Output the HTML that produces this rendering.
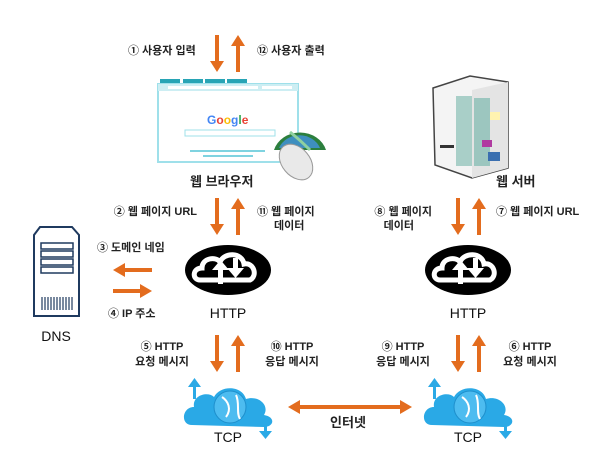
<!DOCTYPE html>
<html><head><meta charset="utf-8"><style>
body{margin:0;background:#fff}
svg{display:block}
text{font-family:"Liberation Sans","Noto Sans CJK KR",sans-serif;font-weight:bold;fill:#222}
.l{font-size:11px}
.b{font-size:14px;font-weight:normal;fill:#111}
.bb{font-size:13px}
</style></head><body>
<svg width="602" height="461" viewBox="0 0 602 461" xmlns="http://www.w3.org/2000/svg">
<defs>
<g id="dn"><rect x="-2" y="0" width="4" height="28" fill="#e36c1e"/><polygon points="-7,26 7,26 0,37" fill="#e36c1e"/></g>
<g id="up"><rect x="-2" y="9" width="4" height="28" fill="#e36c1e"/><polygon points="-7,11 7,11 0,0" fill="#e36c1e"/></g>
<g id="http">
<ellipse cx="0" cy="0" rx="43" ry="25" fill="#000"/>
<path d="M-28,10 C-36,10 -36,-2 -26,-2 C-26,-12 -12,-14 -8,-8 C-4,-18 14,-18 16,-6 C26,-8 30,6 22,10 Z" fill="none" stroke="#fff" stroke-width="5"/>
<rect x="-10" y="-2" width="5" height="16" fill="#fff"/><polygon points="-16,0 1,0 -7.5,-10" fill="#fff"/>
<rect x="5" y="-12" width="5" height="12" fill="#fff"/><polygon points="-1,-2 16,-2 7.5,8" fill="#fff"/>
</g>
<g id="tcp">
<path d="M-38,20 C-50,20 -48,2 -36,2 C-38,-10 -22,-14 -16,-8 C-10,-20 12,-20 16,-6 C28,-10 40,0 34,10 C46,12 44,22 34,22 Z" fill="#2aa9e6"/>
<circle cx="0" cy="2" r="16" fill="#4dbcf0" stroke="#1e8fcc" stroke-width="1"/>
<path d="M-8,-8 C-2,-4 2,4 -4,12 M6,-10 C10,-2 6,8 10,14" stroke="#fff" stroke-width="2" fill="none"/>
<rect x="-37" y="-20" width="3" height="14" fill="#2aa9e6"/><polygon points="-42,-18 -29,-18 -35.5,-27" fill="#2aa9e6"/>
<rect x="34" y="16" width="3" height="12" fill="#2aa9e6"/><polygon points="29,26 42,26 35.5,34" fill="#2aa9e6"/>
</g>
</defs>

<!-- top arrows -->
<use href="#dn" x="217" y="35"/><use href="#up" x="238" y="35"/>
<text class="l" x="128" y="54">① 사용자 입력</text>
<text class="l" x="257" y="54">⑫ 사용자 출력</text>

<!-- browser -->
<g>
<rect x="160" y="79" width="20" height="4" fill="#27a4b5"/><rect x="183" y="79" width="20" height="4" fill="#27a4b5"/><rect x="205" y="79" width="20" height="4" fill="#27a4b5"/><rect x="227" y="79" width="20" height="4" fill="#27a4b5"/>
<rect x="158" y="84" width="140" height="78" fill="#fff" stroke="#9fe0ea" stroke-width="2"/>
<rect x="158" y="84" width="140" height="7" fill="#cdeef3"/>
<rect x="168" y="86" width="90" height="3" fill="#fff"/><rect x="262" y="86" width="30" height="3" fill="#fff"/>
<text x="207" y="124" style="font-size:12px;fill:#4285f4">G<tspan fill="#ea4335">o</tspan><tspan fill="#fbbc05">o</tspan><tspan fill="#4285f4">g</tspan><tspan fill="#34a853">l</tspan><tspan fill="#ea4335">e</tspan></text>
<rect x="185" y="130" width="90" height="6" fill="#fff" stroke="#9fe0ea"/>
<rect x="190" y="150" width="75" height="2" fill="#7fd3e0"/><rect x="203" y="155" width="50" height="2" fill="#7fd3e0"/>
</g>
<!-- globe+mouse -->
<path d="M274,150 A27,24 0 0 1 326,150 Z" fill="#2c7f3e"/>
<path d="M279,148 A22,20 0 0 1 320,148 Z" fill="#3e8fbf"/>
<path d="M290,132 C300,140 305,145 310,150" stroke="#8fd0a0" stroke-width="3" fill="none"/>
<ellipse cx="296" cy="162" rx="14" ry="20" transform="rotate(-40 296 162)" fill="#e9e9e9" stroke="#999"/>

<text class="bb" x="190" y="186">웹 브라우저</text>

<use href="#dn" x="217" y="198"/><use href="#up" x="238" y="198"/>
<text class="l" x="197" y="215" text-anchor="end">② 웹 페이지 URL</text>
<text class="l" x="257" y="215">⑪ 웹 페이지</text>
<text class="l" x="274" y="229">데이터</text>

<!-- DNS -->
<path d="M34,235 L40,227 L72,227 L79,235 L79,316 L34,316 Z" fill="#fff" stroke="#1f3a5f" stroke-width="2"/>
<rect x="41" y="243" width="32" height="6" fill="#fff" stroke="#1f3a5f" stroke-width="1.5"/>
<rect x="41" y="251" width="32" height="6" fill="#fff" stroke="#1f3a5f" stroke-width="1.5"/>
<rect x="41" y="259" width="32" height="6" fill="#fff" stroke="#1f3a5f" stroke-width="1.5"/>
<rect x="41" y="267" width="32" height="6" fill="#fff" stroke="#1f3a5f" stroke-width="1.5"/>
<g stroke="#1f3a5f" stroke-width="1.2"><line x1="42" y1="297" x2="42" y2="310"/><line x1="45" y1="297" x2="45" y2="310"/><line x1="48" y1="297" x2="48" y2="310"/><line x1="51" y1="297" x2="51" y2="310"/><line x1="54" y1="297" x2="54" y2="310"/><line x1="57" y1="297" x2="57" y2="310"/><line x1="60" y1="297" x2="60" y2="310"/><line x1="63" y1="297" x2="63" y2="310"/><line x1="66" y1="297" x2="66" y2="310"/><line x1="69" y1="297" x2="69" y2="310"/><line x1="72" y1="297" x2="72" y2="310"/></g>
<text class="b" x="56" y="341" text-anchor="middle">DNS</text>

<text class="l" x="97" y="251">③ 도메인 네임</text>
<rect x="123" y="268" width="29" height="4" fill="#e36c1e"/><polygon points="125,263 125,277 113,270" fill="#e36c1e"/>
<rect x="113" y="289" width="29" height="4" fill="#e36c1e"/><polygon points="140,284 140,298 152,291" fill="#e36c1e"/>
<text class="l" x="108" y="317">④ IP 주소</text>

<use href="#http" x="228" y="270"/>
<text class="b" x="228" y="318" text-anchor="middle">HTTP</text>

<use href="#dn" x="217" y="335"/><use href="#up" x="238" y="335"/>
<text class="l" x="162" y="350" text-anchor="middle">⑤ HTTP</text>
<text class="l" x="162" y="365" text-anchor="middle">요청 메시지</text>
<text class="l" x="292" y="350" text-anchor="middle">⑩ HTTP</text>
<text class="l" x="292" y="365" text-anchor="middle">응답 메시지</text>

<use href="#tcp" x="230" y="405"/>
<text class="b" x="228" y="442" text-anchor="middle">TCP</text>

<!-- internet -->
<rect x="296" y="405" width="108" height="4" fill="#e36c1e"/>
<polygon points="300,400 300,414 288,407" fill="#e36c1e"/><polygon points="400,400 400,414 412,407" fill="#e36c1e"/>
<text class="bb" x="348" y="427" text-anchor="middle">인터넷</text>

<!-- web server -->
<path d="M433,88 L470,76 L508,82 L508,168 L472,178 L435,165 Z" fill="#f4f4f4" stroke="#444" stroke-width="1.5"/>
<path d="M472,90 L508,82 L508,168 L472,178 Z" fill="#e4e4e4"/>
<rect x="456" y="96" width="16" height="70" fill="#a9cfc8"/>
<rect x="474" y="98" width="16" height="68" fill="#9cc6bf"/>
<rect x="490" y="112" width="10" height="8" fill="#fff3b0"/>
<rect x="482" y="140" width="10" height="7" fill="#b03aa0"/>
<rect x="488" y="152" width="12" height="9" fill="#3b6fb0"/>
<rect x="440" y="145" width="14" height="3" fill="#333"/>
<text class="bb" x="496" y="186">웹 서버</text>

<use href="#dn" x="458" y="198"/><use href="#up" x="479" y="198"/>
<text class="l" x="432" y="215" text-anchor="end">⑧ 웹 페이지</text>
<text class="l" x="414" y="229" text-anchor="end">데이터</text>
<text class="l" x="496" y="215">⑦ 웹 페이지 URL</text>

<use href="#http" x="468" y="270"/>
<text class="b" x="468" y="318" text-anchor="middle">HTTP</text>

<use href="#dn" x="458" y="335"/><use href="#up" x="479" y="335"/>
<text class="l" x="403" y="350" text-anchor="middle">⑨ HTTP</text>
<text class="l" x="403" y="365" text-anchor="middle">응답 메시지</text>
<text class="l" x="530" y="350" text-anchor="middle">⑥ HTTP</text>
<text class="l" x="530" y="365" text-anchor="middle">요청 메시지</text>

<use href="#tcp" x="470" y="405"/>
<text class="b" x="468" y="442" text-anchor="middle">TCP</text>
</svg>
</body></html>
